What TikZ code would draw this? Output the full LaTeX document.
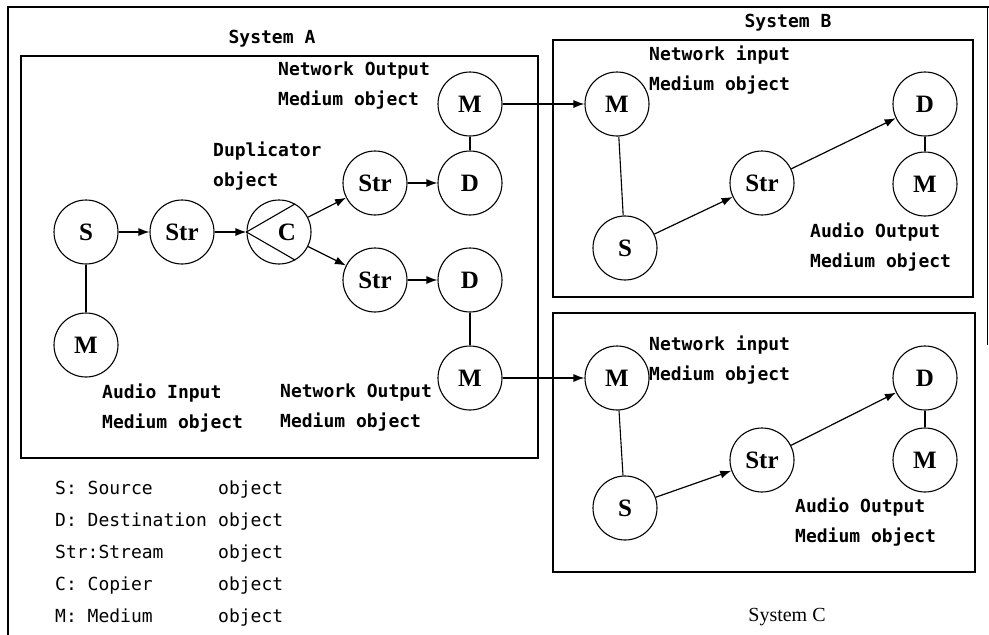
\documentclass[tikz,border=0pt]{standalone}
\usepackage{fontspec}
\setmainfont{Liberation Serif}
\newfontfamily\labfont{DejaVu Sans Mono}
\usetikzlibrary{arrows.meta}
\begin{document}
\begin{tikzpicture}[x=1pt,y=-1pt,
  obj/.style={circle,draw,line width=1.1pt,minimum size=64pt,inner sep=0pt,font=\fontsize{25}{25}\selectfont\bfseries},
  arr/.style={line width=1.2pt,-{Latex[length=11pt,width=8pt]}},
  ln/.style={line width=1.1pt},
  box/.style={draw,line width=1.3pt},
  lab/.style={anchor=west,align=left,inner sep=0pt,font=\labfont\fontsize{18}{30}\selectfont\bfseries},
  leg/.style={anchor=west,align=left,inner sep=0pt,font=\labfont\fontsize{18}{32}\selectfont},
  title/.style={inner sep=0pt,font=\labfont\fontsize{18}{20}\selectfont\bfseries},
]
\useasboundingbox (0,0) rectangle (989,635);
% outer frame
\draw[line width=1.3pt] (989,7) -- (8,7) -- (8,635);
\draw[line width=1pt] (987,7) -- (987,345);

% boxes
\draw[box] (21,56) rectangle (538,458);
\draw[box] (553,40) rectangle (973,297);
\draw[box] (553,313) rectangle (975,572);

\node[title] (tA) at (272,39) {System A};
\node[title] (tB) at (788,23) {System B};
\node[inner sep=0pt,font=\fontsize{20}{20}\selectfont] (tC) at (787,617) {System C};

% System A
\node[obj] (sA) at (86,232) {S};
\node[obj] (stA) at (182,232) {Str};
\node[obj] (cA) at (279,232) {\hspace{16pt}C};
\node[obj] (mA) at (86,345) {M};
\node[obj] (st1A) at (375,183) {Str};
\node[obj] (d1A) at (470,183) {D};
\node[obj] (m1A) at (470,104) {M};
\node[obj] (st2A) at (375,280) {Str};
\node[obj] (d2A) at (470,280) {D};
\node[obj] (m2A) at (470,378) {M};

\draw[ln] (cA.west) -- (cA.60);
\draw[ln] (cA.west) -- (cA.-60);

\draw[arr] (sA) -- (stA);
\draw[arr] (stA) -- (cA);
\draw[arr] (cA) -- (st1A);
\draw[arr] (cA) -- (st2A);
\draw[arr] (st1A) -- (d1A);
\draw[arr] (st2A) -- (d2A);
\draw[ln] (sA) -- (mA);
\draw[ln] (m1A) -- (d1A);
\draw[ln] (d2A) -- (m2A);

\node[lab] (l1) at (278,86) {Network Output\\Medium object};
\node[lab] (l2) at (213,166) {Duplicator\\object};
\node[lab] (l3) at (102,408) {Audio Input\\Medium object};
\node[lab] (l4) at (280,408) {Network Output\\Medium object};

% System B
\node[obj] (mB) at (617,104) {M};
\node[obj] (sB) at (625,248) {S};
\node[obj] (stB) at (762,183) {Str};
\node[obj] (dB) at (925,104) {D};
\node[obj] (m2B) at (925,184) {M};
\draw[ln] (mB) -- (sB);
\draw[arr] (sB) -- (stB);
\draw[arr] (stB) -- (dB);
\draw[ln] (dB) -- (m2B);
\node[lab] (l5) at (649,70) {Network input\\Medium object};
\node[lab] (l6) at (810,247) {Audio Output\\Medium object};

% System C
\node[obj] (mC) at (617,378) {M};
\node[obj] (sC) at (625,508) {S};
\node[obj] (stC) at (762,460) {Str};
\node[obj] (dC) at (925,378) {D};
\node[obj] (m2C) at (925,460) {M};
\draw[ln] (mC) -- (sC);
\draw[arr] (sC) -- (stC);
\draw[arr] (stC) -- (dC);
\draw[ln] (dC) -- (m2C);
\node[lab] (l7) at (649,360) {Network input\\Medium object};
\node[lab] (l8) at (795,522) {Audio Output\\Medium object};

% inter-system arrows
\draw[arr] (m1A) -- (mB);
\draw[arr] (m2A) -- (mC);

% legend
\node[leg] (legend) at (55,554) {\makebox[163pt][l]{S: Source}object\\
\makebox[163pt][l]{D: Destination}object\\
\makebox[163pt][l]{Str:Stream}object\\
\makebox[163pt][l]{C: Copier}object\\
\makebox[163pt][l]{M: Medium}object};
\end{tikzpicture}
\end{document}
